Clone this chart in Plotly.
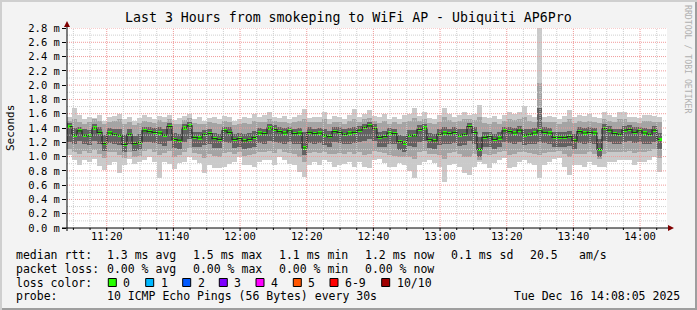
import plotly.graph_objects as go
from datetime import datetime, timedelta

# ---------------- data (ms), one value per 90 s step ----------------
med = [1.42,1.30,1.36,1.30,1.29,1.40,1.34,1.18,1.33,1.31,
       1.30,1.17,1.31,1.18,1.20,1.36,1.35,1.34,1.33,1.30,
       1.42,1.24,1.23,1.40,1.43,1.27,1.26,1.31,1.32,1.25,
       1.24,1.36,1.34,1.24,1.25,1.22,1.24,1.27,1.33,1.32,
       1.40,1.38,1.35,1.33,1.36,1.32,1.33,1.12,1.34,1.32,
       1.33,1.30,1.28,1.35,1.34,1.31,1.33,1.34,1.37,1.41,
       1.43,1.39,1.27,1.28,1.33,1.32,1.21,1.19,1.30,1.29,
       1.38,1.40,1.24,1.22,1.31,1.33,1.32,1.34,1.30,1.31,
       1.42,1.34,1.10,1.27,1.28,1.24,1.26,1.36,1.35,1.33,
       1.37,1.30,1.31,1.33,1.36,1.34,1.33,1.27,1.27,1.27,
       1.28,1.22,1.35,1.33,1.34,1.33,1.10,1.39,1.37,1.32,
       1.31,1.37,1.38,1.34,1.36,1.33,1.31,1.37,1.24]
ping_max = [1.55,1.68,1.58,1.52,1.56,1.54,1.58,1.50,1.55,1.57,
            1.60,1.52,1.56,1.50,1.54,1.58,1.55,1.53,1.57,1.55,
            1.58,1.51,1.54,1.57,1.60,1.52,1.55,1.50,1.54,1.56,
            1.52,1.57,1.55,1.50,1.53,1.56,1.54,1.60,1.55,1.58,
            1.62,1.56,1.54,1.57,1.52,1.55,1.58,1.67,1.54,1.56,
            1.55,1.62,1.53,1.57,1.55,1.52,1.58,1.67,1.56,1.60,
            1.65,1.57,1.55,1.60,1.53,1.56,1.52,1.58,1.60,1.68,
            1.57,1.62,1.54,1.52,1.58,1.68,1.60,1.55,1.58,1.62,
            1.58,1.60,1.72,1.55,1.54,1.57,1.52,1.58,1.62,1.60,
            1.62,1.71,1.58,1.55,2.90,1.55,1.57,1.56,1.53,1.57,
            1.65,1.55,1.58,1.57,1.59,1.55,1.54,1.62,1.58,1.55,
            1.62,1.62,1.56,1.55,1.54,1.58,1.58,1.57,1.56]
ping_hi2 = [1.50,1.52,1.48,1.46,1.49,1.52,1.50,1.45,1.48,1.50,
            1.52,1.46,1.48,1.44,1.47,1.50,1.49,1.47,1.51,1.48,
            1.53,1.45,1.46,1.51,1.54,1.47,1.46,1.45,1.48,1.47,
            1.46,1.50,1.49,1.44,1.46,1.47,1.46,1.50,1.48,1.49,
            1.53,1.50,1.48,1.49,1.47,1.48,1.50,1.52,1.48,1.49,
            1.48,1.52,1.46,1.49,1.48,1.46,1.50,1.53,1.49,1.52,
            1.54,1.50,1.47,1.50,1.46,1.48,1.45,1.49,1.50,1.54,
            1.50,1.53,1.47,1.45,1.49,1.55,1.51,1.48,1.50,1.52,
            1.52,1.51,1.55,1.47,1.46,1.48,1.45,1.50,1.52,1.51,
            1.52,1.55,1.50,1.48,2.03,1.48,1.49,1.48,1.46,1.49,
            1.52,1.47,1.50,1.49,1.50,1.48,1.47,1.53,1.50,1.48,
            1.52,1.53,1.49,1.48,1.47,1.50,1.50,1.49,1.48]
ping_hi1 = [1.47,1.40,1.42,1.38,1.37,1.45,1.41,1.30,1.40,1.38,
            1.39,1.30,1.38,1.29,1.31,1.42,1.42,1.40,1.41,1.38,
            1.47,1.33,1.32,1.46,1.48,1.35,1.34,1.37,1.39,1.33,
            1.32,1.42,1.41,1.32,1.33,1.31,1.33,1.36,1.40,1.39,
            1.46,1.44,1.41,1.40,1.42,1.39,1.40,1.35,1.41,1.39,
            1.40,1.38,1.36,1.42,1.41,1.38,1.40,1.42,1.43,1.46,
            1.48,1.45,1.35,1.36,1.40,1.39,1.30,1.29,1.37,1.37,
            1.44,1.46,1.33,1.31,1.38,1.41,1.39,1.41,1.38,1.39,
            1.47,1.41,1.27,1.35,1.35,1.32,1.34,1.42,1.42,1.40,
            1.43,1.38,1.38,1.40,1.68,1.41,1.40,1.35,1.34,1.35,
            1.36,1.31,1.41,1.40,1.41,1.40,1.25,1.45,1.43,1.39,
            1.38,1.43,1.44,1.41,1.42,1.40,1.38,1.43,1.33]
ping_lo1 = [1.20,1.18,1.22,1.17,1.16,1.22,1.18,1.08,1.19,1.18,
            1.16,1.06,1.17,1.08,1.09,1.20,1.21,1.19,1.18,1.15,
            1.22,1.12,1.10,1.20,1.24,1.14,1.13,1.16,1.18,1.12,
            1.12,1.20,1.19,1.12,1.13,1.10,1.12,1.14,1.19,1.18,
            1.22,1.21,1.19,1.18,1.20,1.17,1.18,1.02,1.19,1.18,
            1.19,1.16,1.14,1.20,1.19,1.17,1.18,1.19,1.21,1.22,
            1.24,1.22,1.13,1.14,1.18,1.17,1.09,1.07,1.15,1.14,
            1.21,1.22,1.12,1.10,1.16,1.18,1.17,1.19,1.15,1.16,
            1.22,1.18,1.00,1.13,1.14,1.11,1.13,1.20,1.19,1.18,
            1.21,1.16,1.17,1.18,1.20,1.19,1.18,1.14,1.14,1.14,
            1.15,1.10,1.19,1.18,1.19,1.18,1.00,1.22,1.21,1.17,
            1.17,1.21,1.22,1.19,1.20,1.18,1.17,1.21,1.10]
ping_lo2 = [1.10,1.06,1.04,1.08,1.05,1.09,1.04,0.98,1.06,1.07,
            1.02,0.98,1.07,0.99,1.01,1.08,1.10,1.06,1.02,1.05,
            1.08,1.00,1.02,1.07,1.12,1.05,1.03,0.98,1.04,1.01,
            1.00,1.05,1.06,1.03,1.06,1.01,1.02,1.03,1.06,1.07,
            1.08,1.05,1.10,1.07,1.05,1.04,1.00,0.92,1.05,1.06,
            1.05,1.07,1.04,1.03,1.05,1.04,1.06,1.03,1.06,1.02,
            1.04,1.08,1.06,1.05,1.02,1.01,1.00,0.99,1.00,0.96,
            1.06,1.08,1.04,1.03,1.02,0.96,1.05,1.06,1.03,0.99,
            1.00,1.04,0.95,1.04,1.02,1.03,1.06,1.08,1.02,1.03,
            1.07,1.06,1.05,1.04,1.02,1.05,1.06,1.07,1.08,1.03,
            1.00,1.03,1.04,1.03,1.06,1.04,0.97,1.03,1.06,1.06,
            1.07,1.07,1.08,1.05,1.06,1.07,1.08,1.10,0.98]
ping_min = [1.02,0.95,0.88,0.95,0.92,0.96,0.87,0.81,0.88,0.92,
            0.77,0.88,0.97,0.90,0.92,0.95,0.99,0.92,0.70,0.93,
            0.90,0.83,0.91,0.93,1.00,0.95,0.91,0.77,0.88,0.84,
            0.84,0.86,0.90,0.93,0.99,0.88,0.88,0.86,0.92,0.95,
            0.95,0.88,1.00,0.95,0.90,0.88,0.78,0.71,0.88,0.93,
            0.88,0.95,0.92,0.86,0.88,0.90,0.92,0.86,0.92,0.85,
            0.84,0.95,0.97,0.91,0.86,0.85,0.91,0.88,0.80,0.70,
            0.88,0.93,0.95,0.91,0.86,0.64,0.88,0.90,0.86,0.77,
            0.74,0.86,0.93,0.90,0.84,0.91,0.95,0.98,0.84,0.86,
            0.93,0.95,0.91,0.88,0.70,0.88,0.93,0.97,0.98,0.86,
            0.74,0.88,0.88,0.86,0.93,0.88,0.86,0.86,0.93,0.93,
            0.95,0.95,0.95,0.88,0.93,0.93,0.95,1.00,0.79]

y_ticks = [0.0,0.2,0.4,0.6,0.8,1.0,1.2,1.4,1.6,1.8,2.0,2.2,2.4,2.6,2.8]
x_tick_labels = ["11:20","11:40","12:00","12:20","12:40","13:00","13:20","13:40","14:00"]

title = "Last 3 Hours from smokeping to WiFi AP - Ubiquiti AP6Pro"
rtt_fields = ["median rtt:", "1.3 ms avg", "1.5 ms max", "1.1 ms min", "1.2 ms now", "0.1 ms sd", "20.5", "am/s"]
loss_fields = ["packet loss:", "0.00 % avg", "0.00 % max", "0.00 % min", "0.00 % now"]
loss_labels = ["0", "1", "2", "3", "4", "5", "6-9", "10/10"]
loss_colors = ["#26ff00", "#00b8ff", "#0059ff", "#7e00ff", "#ff00ff", "#ff5500", "#ff0000", "#a10000"]
probe_fields = ["probe:", "10 ICMP Echo Pings (56 Bytes) every 30s", "Tue Dec 16 14:08:05 2025"]

# ---------------- layout constants (pixels) ----------------
W, H = 697, 310
PL, PR, PT, PB = 67, 667, 28, 228
FONT = "DejaVu Sans Mono"
start = datetime(2025, 12, 16, 11, 8, 5)
end = datetime(2025, 12, 16, 14, 8, 5)
step = 90

def px(x):
    return (x - PL) / (PR - PL)

def py(y):
    return (PB - y) / (PB - PT)

n = len(med)
times = [start + timedelta(seconds=step * (i + 0.5)) for i in range(n)]

fig = go.Figure()

def band(lo, hi, color, width_ms):
    fig.add_trace(go.Bar(
        x=times, y=[h - l for l, h in zip(lo, hi)], base=lo,
        width=width_ms, marker=dict(color=color, line=dict(width=0)),
        showlegend=False, hoverinfo="skip"))

band(ping_min, ping_max, "#cacaca", step * 1000)
band(ping_lo2, ping_hi2, "#a4a4a4", step * 1000)
band(ping_lo1, ping_hi1, "#626262", step * 1000)
# dark connector of the median between steps
fig.add_trace(go.Scatter(x=times, y=med, mode="lines", line=dict(color="#282828", width=1.2, shape="hvh"),
                         showlegend=False, hoverinfo="skip"))
band([m - 0.022 for m in med], [m + 0.022 for m in med], "#26ff00", step * 1000 * 0.8)

shapes = []
# grid (drawn above the smoke like rrdtool)
for k in range(1, 29):
    v = k / 10
    major = (k % 2 == 0)
    shapes.append(dict(type="line", xref="paper", yref="y", x0=0, x1=1, y0=v, y1=v,
                       line=dict(color="#f09a9a" if major else "#cfcfcf", width=1, dash="1px,1px"),
                       layer="above"))
t = datetime(2025, 12, 16, 11, 10)
while t < end:
    major = (t.minute % 20 == 0)
    shapes.append(dict(type="line", xref="x", yref="paper", x0=t, x1=t, y0=0, y1=1,
                       line=dict(color="#f09a9a" if major else "#cfcfcf", width=1, dash="1px,1px"),
                       layer="above"))
    shapes.append(dict(type="line", xref="x", yref="paper", x0=t, x1=t, y0=py(PB), y1=py(PB + (3 if major else 2)),
                       line=dict(color="black", width=1), layer="above"))
    t += timedelta(minutes=5)

# axes lines with arrows
shapes.append(dict(type="line", xref="paper", yref="paper", x0=px(62), x1=px(670), y0=0, y1=0,
                   line=dict(color="black", width=1), layer="above"))
shapes.append(dict(type="line", xref="paper", yref="paper", x0=0, x1=0, y0=py(231), y1=py(24),
                   line=dict(color="black", width=1), layer="above"))
shapes.append(dict(type="path", xref="paper", yref="paper",
                   path=f"M {px(668)},{py(225)} L {px(674)},{py(228)} L {px(668)},{py(231)} Z",
                   fillcolor="#800000", line=dict(width=0), layer="above"))
shapes.append(dict(type="path", xref="paper", yref="paper",
                   path=f"M {px(64)},{py(27)} L {px(67)},{py(21)} L {px(70)},{py(27)} Z",
                   fillcolor="#800000", line=dict(width=0), layer="above"))
# frame shading
shapes.append(dict(type="line", xref="paper", yref="paper", x0=px(0), x1=px(W), y0=py(H - 1), y1=py(H - 1),
                   line=dict(color="#9e9e9e", width=2), layer="above"))
shapes.append(dict(type="line", xref="paper", yref="paper", x0=px(W - 1), x1=px(W - 1), y0=py(0), y1=py(H),
                   line=dict(color="#9e9e9e", width=2), layer="above"))
shapes.append(dict(type="line", xref="paper", yref="paper", x0=px(0), x1=px(W), y0=py(1), y1=py(1),
                   line=dict(color="#cfcfcf", width=2), layer="above"))
shapes.append(dict(type="line", xref="paper", yref="paper", x0=px(1), x1=px(1), y0=py(0), y1=py(H),
                   line=dict(color="#cfcfcf", width=2), layer="above"))

annotations = []

def txt(x, y, s, size, color="black", anchor="left", angle=0):
    annotations.append(dict(x=px(x), y=py(y), xref="paper", yref="paper", text=s, showarrow=False,
                            xanchor=anchor, yanchor="middle", textangle=angle, borderpad=0, borderwidth=0,
                            font=dict(family=FONT, size=size, color=color)))

txt(348.5, 18, title, 13.25, anchor="center")
txt(10, 128, "Seconds", 11, angle=-90, anchor="center")
txt(688, 59, "RRDTOOL / TOBI OETIKER", 8.2, color="#b0b0b0", anchor="center", angle=90)

row_y = [255, 268.5, 282.5, 296]
rtt_x = [16, 107.3, 193.3, 279.3, 365, 451, 530, 579.3]
for s, x in zip(rtt_fields, rtt_x):
    txt(x, row_y[0], s, 11.5)
for s, x in zip(loss_fields, rtt_x):
    txt(x, row_y[1], s, 11.5)
txt(16, row_y[2], "loss color:", 11.5)
box_x = [108.3, 145.7, 182.7, 219.3, 256, 293.3, 330, 381.7]
for lab, col, x in zip(loss_labels, loss_colors, box_x):
    shapes.append(dict(type="rect", xref="paper", yref="paper", x0=px(x), x1=px(x + 8),
                       y0=py(row_y[2] - 4), y1=py(row_y[2] + 4),
                       fillcolor=col, line=dict(color="black", width=1), layer="above"))
    txt(x + 15, row_y[2], lab, 11.5)
txt(16, row_y[3], probe_fields[0], 11.5)
txt(107.3, row_y[3], probe_fields[1], 11.5)
txt(680, row_y[3], probe_fields[2], 11.5, anchor="right")

x_tick_vals = [datetime(2025, 12, 16, int(s[:2]), int(s[3:])) for s in x_tick_labels]

fig.update_layout(
    width=W, height=H, autosize=False,
    margin=dict(l=PL, r=W - PR, t=PT, b=H - PB, pad=0),
    paper_bgcolor="#f3f3f3", plot_bgcolor="#ffffff",
    barmode="overlay", bargap=0,
    showlegend=False,
    shapes=shapes, annotations=annotations,
    font=dict(family=FONT, size=10.5, color="black"),
    xaxis=dict(type="date", range=[start, end], showgrid=False, zeroline=False, showline=False,
               tickmode="array", tickvals=x_tick_vals, ticktext=x_tick_labels,
               ticks="", ticklen=0, tickfont=dict(family=FONT, size=10.5, color="black")),
    yaxis=dict(range=[0, 2.8], showgrid=False, zeroline=False, showline=False,
               tickmode="array", tickvals=y_ticks, ticktext=[f"{v:.1f} m" for v in y_ticks],
               ticks="outside", ticklen=4, tickcolor="black", tickwidth=1,
               tickfont=dict(family=FONT, size=10.5, color="black")),
)

fig.write_html("out.html")
